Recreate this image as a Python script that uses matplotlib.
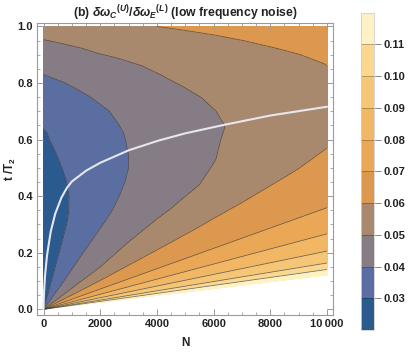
import numpy as np
import matplotlib
matplotlib.use("Agg")
import matplotlib.pyplot as plt
from matplotlib.ticker import MultipleLocator, FixedLocator, FuncFormatter

plt.rcParams['font.family'] = ['Liberation Sans', 'DejaVu Sans']
plt.rcParams['font.weight'] = 'bold'
plt.rcParams['mathtext.fontset'] = 'custom'
plt.rcParams['mathtext.rm'] = 'Liberation Sans:bold'
plt.rcParams['mathtext.it'] = 'Liberation Sans:italic:bold'
plt.rcParams['mathtext.bf'] = 'Liberation Sans:bold'

# ---------------- data ----------------
levels = [0.02, 0.03, 0.04, 0.05, 0.06, 0.07, 0.08, 0.09, 0.10, 0.11, 0.12]
line_levels = [0.03, 0.04, 0.05, 0.06, 0.07, 0.08, 0.09, 0.10, 0.11]
band_colors = ['#2b5a8f', '#5a6ea1', '#857c86', '#a8896d', '#dc984f',
               '#eaa756', '#f1b765', '#f6c677', '#fbd78f', '#fef1c3']
cbar_ticks = [0.03, 0.04, 0.05, 0.06, 0.07, 0.08, 0.09, 0.10, 0.11]

N_max = 10000.0
t_max = 1.0
# sample rays from the origin: end point on right edge (N_max, s*t_max) ...
ray_edge_s = [0.0, 0.06, 0.10, 0.122, 0.142, 0.165, 0.208, 0.27, 0.364,
              0.45, 0.55, 0.65, 0.75, 0.875, 1.0]
# ... then end point on top edge (u*N_max, t_max)
ray_top_u = [0.875, 0.75, 0.625, 0.5, 0.4, 0.3, 0.22, 0.15, 0.09, 0.04, 0.0]
# fraction of the way out along each ray
rho = [0.0, 0.1, 0.2, 0.3, 0.35, 0.4, 0.45, 0.5, 0.55, 0.6, 0.625, 0.65, 0.7, 0.75, 0.8, 0.9, 1.0]

# values, one row per ray, one column per rho
Z = [
    [0.300] * 17,
    [0.170] * 17,
    [0.133] * 17,
    [0.1195] * 17,
    [0.1095] * 17,
    [0.0995] * 17,
    [0.0895] * 17,
    [0.0795] * 17,
    [0.0695] * 17,
    [0.0631, 0.0631, 0.0635, 0.0639, 0.0640, 0.0642, 0.0643, 0.0645, 0.0646, 0.0648, 0.0648, 0.0649, 0.0650, 0.0651, 0.0652, 0.0654, 0.0657],
    [0.0576, 0.0576, 0.0578, 0.0583, 0.0585, 0.0586, 0.0587, 0.0588, 0.0589, 0.0592, 0.0592, 0.0593, 0.0594, 0.0596, 0.0598, 0.0601, 0.0606],
    [0.0538, 0.0538, 0.0540, 0.0547, 0.0548, 0.0548, 0.0548, 0.0548, 0.0548, 0.0558, 0.0557, 0.0558, 0.0560, 0.0559, 0.0560, 0.0566, 0.0576],
    [0.0500, 0.0500, 0.0500, 0.0510, 0.0511, 0.0511, 0.0510, 0.0509, 0.0507, 0.0523, 0.0529, 0.0531, 0.0535, 0.0535, 0.0537, 0.0551, 0.0572],
    [0.0477, 0.0477, 0.0477, 0.0482, 0.0482, 0.0483, 0.0481, 0.0486, 0.0490, 0.0497, 0.0506, 0.0510, 0.0518, 0.0522, 0.0530, 0.0559, 0.0604],
    [0.0454, 0.0454, 0.0455, 0.0458, 0.0459, 0.0456, 0.0458, 0.0468, 0.0479, 0.0490, 0.0497, 0.0503, 0.0516, 0.0528, 0.0547, 0.0599, 0.0660],
    [0.0431, 0.0431, 0.0433, 0.0435, 0.0435, 0.0438, 0.0438, 0.0447, 0.0458, 0.0469, 0.0476, 0.0482, 0.0501, 0.0515, 0.0534, 0.0584, 0.0647],
    [0.0408, 0.0408, 0.0411, 0.0411, 0.0412, 0.0416, 0.0418, 0.0426, 0.0436, 0.0447, 0.0454, 0.0460, 0.0478, 0.0502, 0.0520, 0.0567, 0.0635],
    [0.0382, 0.0382, 0.0385, 0.0385, 0.0386, 0.0392, 0.0398, 0.0405, 0.0415, 0.0426, 0.0432, 0.0438, 0.0455, 0.0480, 0.0507, 0.0551, 0.0622],
    [0.0353, 0.0353, 0.0355, 0.0355, 0.0358, 0.0364, 0.0370, 0.0380, 0.0392, 0.0404, 0.0410, 0.0416, 0.0432, 0.0455, 0.0486, 0.0535, 0.0610],
    [0.0330, 0.0330, 0.0331, 0.0331, 0.0335, 0.0341, 0.0349, 0.0359, 0.0370, 0.0383, 0.0390, 0.0398, 0.0413, 0.0435, 0.0465, 0.0522, 0.0600],
    [0.0308, 0.0308, 0.0308, 0.0308, 0.0312, 0.0318, 0.0327, 0.0337, 0.0349, 0.0360, 0.0367, 0.0375, 0.0394, 0.0416, 0.0444, 0.0509, 0.0585],
    [0.0283, 0.0283, 0.0284, 0.0286, 0.0291, 0.0299, 0.0310, 0.0321, 0.0331, 0.0342, 0.0348, 0.0356, 0.0376, 0.0400, 0.0426, 0.0498, 0.0574],
    [0.0257, 0.0257, 0.0260, 0.0265, 0.0271, 0.0279, 0.0292, 0.0306, 0.0316, 0.0327, 0.0332, 0.0340, 0.0360, 0.0384, 0.0412, 0.0482, 0.0565],
    [0.0235, 0.0235, 0.0239, 0.0246, 0.0253, 0.0261, 0.0273, 0.0288, 0.0303, 0.0313, 0.0318, 0.0326, 0.0346, 0.0371, 0.0399, 0.0469, 0.0558],
    [0.0217, 0.0217, 0.0222, 0.0231, 0.0238, 0.0247, 0.0258, 0.0271, 0.0286, 0.0302, 0.0306, 0.0314, 0.0335, 0.0360, 0.0388, 0.0459, 0.0550],
    [0.0202, 0.0202, 0.0208, 0.0219, 0.0226, 0.0235, 0.0245, 0.0257, 0.0271, 0.0287, 0.0295, 0.0305, 0.0326, 0.0351, 0.0379, 0.0450, 0.0544],
]

# optimal-time curve (white line)
opt_N = [0, 5, 20, 50, 120, 250, 410, 630, 820, 1000, 1500, 2000, 3000, 4040, 5000, 6370, 8000, 10000]
opt_t = [0, 0.0295, 0.0675, 0.118, 0.190, 0.274, 0.338, 0.395, 0.429, 0.452, 0.490, 0.518, 0.562,
         0.596, 0.622, 0.652, 0.685, 0.716]

x_ticks = [0, 2000, 4000, 6000, 8000, 10000]
x_ticklabels = ['0', '2000', '4000', '6000', '8000', '10\u2009000']
y_ticks = [0.0, 0.2, 0.4, 0.6, 0.8, 1.0]

# ---------------- figure ----------------
W, H = 409, 355
fig = plt.figure(figsize=(W / 100, H / 100), dpi=100)
ax = fig.add_axes([37.3 / W, 1 - 315 / H, (333.3 - 37.3) / W, (315 - 22.7) / H])

bx = np.array([1.0] * len(ray_edge_s) + list(ray_top_u))
by = np.array(list(ray_edge_s) + [1.0] * len(ray_top_u))
R = np.array(rho)
X = np.outer(bx, R) * N_max
Y = np.outer(by, R) * t_max
Zarr = np.array(Z)

cf = ax.contourf(X, Y, Zarr, levels=levels, colors=band_colors)
ax.contour(X, Y, Zarr, levels=line_levels, colors='#3a3a3a', linewidths=0.55, alpha=0.75)
ax.plot(opt_N, opt_t, color='#e6e6ee', lw=1.5, solid_capstyle='round', solid_joinstyle='round')

ax.set_xlim(-222, 10222)
ax.set_ylim(-0.020, 1.013)

for sp in ax.spines.values():
    sp.set_color('#9a9a9a')
    sp.set_linewidth(0.8)

ax.xaxis.set_major_locator(FixedLocator(x_ticks))
ax.set_xticklabels(x_ticklabels)
ax.xaxis.set_minor_locator(MultipleLocator(500))
ax.yaxis.set_major_locator(FixedLocator(y_ticks))
ax.yaxis.set_major_formatter(FuncFormatter(lambda v, p: f"{v:.1f}"))
ax.yaxis.set_minor_locator(MultipleLocator(0.05))
ax.tick_params(which='both', direction='in', top=True, right=True, color='#9a9a9a',
               labelsize=8, labelcolor='#222222', pad=3)
ax.tick_params(which='major', length=4, width=0.7)
ax.tick_params(which='minor', length=2.2, width=0.6)
for lab in ax.get_xticklabels() + ax.get_yticklabels():
    lab.set_fontweight('bold')

ax.set_xlabel('N', fontsize=8.5, fontweight='bold', color='#222222', labelpad=6)
ax.set_ylabel(r't /T$_2$', fontsize=8.5, fontweight='bold', color='#222222')
ax.yaxis.set_label_coords((18.0 - 37.3) / 296.0, 0.5)

fig.text(185 / W, 1 - 3 / H,
         r"(b) $\delta\omega_C{}^{(U)}/\delta\omega_E{}^{(L)}$ (low frequency noise)",
         ha='center', va='top', fontsize=8.8, fontweight='bold', color='#222222')

# colorbar
cax = fig.add_axes([361 / W, 1 - 330 / H, 13 / W, (330 - 12.7) / H])
cb = fig.colorbar(cf, cax=cax, ticks=cbar_ticks)
cb.outline.set_edgecolor('#cfcfcf')
cb.outline.set_linewidth(0.6)
cax.tick_params(direction='out', length=5, width=0.7, color='#8a8a8a',
                labelsize=8, labelcolor='#222222', pad=1.5)
cax.set_yticklabels([f"{v:.2f}" for v in cbar_ticks])
for lab in cax.get_yticklabels():
    lab.set_fontweight('bold')
for lev in cbar_ticks:
    cax.axhline(lev, color='#000000', alpha=0.25, lw=0.7)

fig.savefig('out.png', dpi=100)
